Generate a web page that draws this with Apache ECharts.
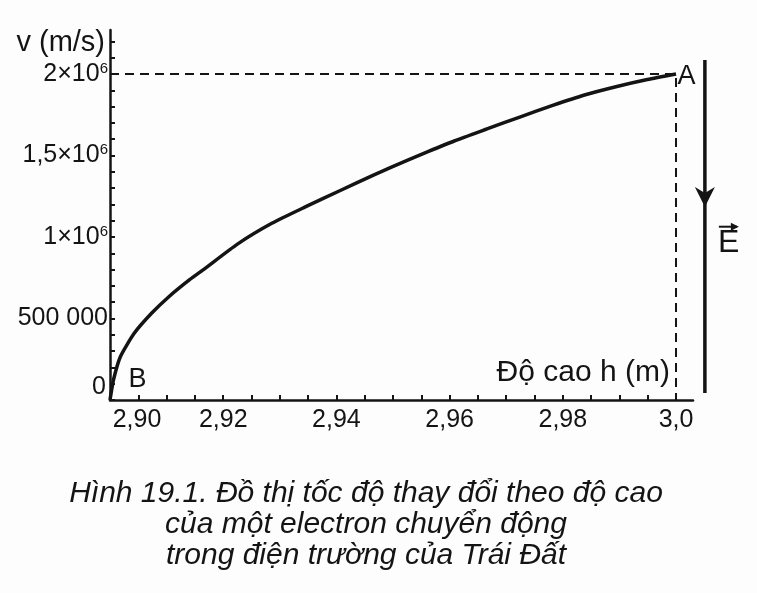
<!DOCTYPE html>
<html>
<head>
<meta charset="utf-8">
<script src="https://cdn.jsdelivr.net/npm/echarts@6/dist/echarts.min.js"></script>
<style>
html,body{margin:0;padding:0;background:#fdfdfd;}
#chart{width:757px;height:593px;}
</style>
</head>
<body>
<div id="chart"></div>
<script>
// ---- data ----
const heights = [2.9000, 2.90061, 2.90183, 2.90428, 2.90734, 2.9104, 2.91407, 2.91651, 2.92258, 2.92859, 2.93459, 2.94059, 2.94655, 2.9525, 2.95607, 2.96082, 2.96661, 2.9724, 2.97821, 2.98383, 2.98938, 2.99495, 3.0];
const speeds  = [0, 122700, 265600, 409200, 531900, 633700, 738000, 800000, 958000, 1084000, 1186000, 1284000, 1380000, 1470000, 1522000, 1589000, 1663000, 1736000, 1807000, 1871000, 1922000, 1966000, 2000000];
const xTickValues = [2.90, 2.92, 2.94, 2.96, 2.98, 3.00];
const xTickLabels = ['{first|2,90}', '2,92', '2,94', '2,96', '2,98', '3,0'];
const yTickValues = [0, 500000, 1000000, 1500000, 2000000];
const yTickLabels = ['{z|0}', '500 000', '1×10{s|6}', '1,5×10{s|6}', '2×10{s|6}'];
const pointA = [3.0, 2000000];
const pointB = [2.9000, 0];
// electric field arrow (annotation), in data units
const fieldH = 3.0051;
const fieldTopV = 2086000;
const fieldBottomV = 43000;
const fieldHeadV = 1184000;
const fieldLabelV = 965000;

const ink = '#141414';
const FONT = '"Liberation Sans", Arial, sans-serif';

function findLabel(values, labels, v, tol) {
  for (let i = 0; i < values.length; i++) {
    if (Math.abs(values[i] - v) < tol) return labels[i];
  }
  return '';
}

const chart = echarts.init(document.getElementById('chart'), null, {renderer: 'canvas'});
const curve = heights.map((h, i) => [h, speeds[i]]);
const hidden = {color: 'rgba(0,0,0,0)', borderWidth: 0, opacity: 1};

chart.setOption({
  backgroundColor: '#fdfdfd',
  animation: false,
  textStyle: {fontFamily: FONT, color: ink},
  title: {
    text: 'Hình 19.1. Đồ thị tốc độ thay đổi theo độ cao\ncủa một electron chuyển động\ntrong điện trường của Trái Đất',
    left: 361,
    top: 473,
    textAlign: 'center',
    textStyle: {fontFamily: FONT, fontStyle: 'italic', fontWeight: 'normal', fontSize: 30, lineHeight: 31, color: ink}
  },
  grid: {left: 110, right: 64, top: 30, bottom: 193, containLabel: false},
  xAxis: {
    type: 'value',
    min: 2.90,
    max: 3.003,
    interval: 0.005,
    name: 'Độ cao h (m)',
    nameLocation: 'end',
    nameGap: -23,
    nameTextStyle: {fontFamily: FONT, fontSize: 30, color: ink, align: 'right', verticalAlign: 'bottom', padding: [0, 0, 12, 0]},
    axisLine: {lineStyle: {color: ink, width: 2.5}},
    axisTick: {inside: true, length: 5, lineStyle: {color: ink, width: 2}},
    splitLine: {show: false},
    axisLabel: {
      margin: 8,
      fontSize: 25,
      color: ink,
      fontFamily: FONT,
      showMaxLabel: false,
      formatter: v => findLabel(xTickValues, xTickLabels, v, 1e-6),
      rich: {first: {fontSize: 25, fontFamily: FONT, color: ink, padding: [0, 0, 0, 54]}}
    }
  },
  yAxis: {
    type: 'value',
    min: 0,
    max: 2270000,
    interval: 100000,
    name: 'v (m/s)',
    nameLocation: 'end',
    nameGap: -13,
    nameTextStyle: {fontFamily: FONT, fontSize: 29, color: ink, align: 'right', verticalAlign: 'middle', padding: [0, 5, 0, 0]},
    axisLine: {show: true, lineStyle: {color: ink, width: 2.5}},
    axisTick: {show: true, inside: true, length: 5, lineStyle: {color: ink, width: 2}},
    splitLine: {show: false},
    axisLabel: {
      margin: 2,
      fontSize: 25,
      lineHeight: 26,
      color: ink,
      fontFamily: FONT,
      showMaxLabel: false,
      formatter: v => findLabel(yTickValues, yTickLabels, v, 1),
      rich: {
        s: {fontSize: 15, lineHeight: 15, verticalAlign: 'top', fontFamily: FONT, color: ink},
        z: {fontSize: 25, fontFamily: FONT, color: ink, padding: [0, 2, 26, 0]}
      }
    }
  },
  series: [
    {
      type: 'line',
      data: [[xTickValues[0], pointA[1]], pointA, [pointA[0], 0]],
      symbol: 'none',
      lineStyle: {color: ink, width: 2, type: [9, 6]},
      silent: true
    },
    {
      type: 'line',
      data: curve,
      symbol: 'none',
      smooth: 0.2,
      lineStyle: {color: ink, width: 3.5},
      silent: true
    },
    {
      type: 'scatter',
      clip: false,
      silent: true,
      symbol: 'circle',
      symbolSize: 1,
      itemStyle: hidden,
      data: [
        {value: pointA, label: {show: true, position: 'right', distance: 1, offset: [0, 3], formatter: 'A', fontSize: 27, fontFamily: FONT, color: ink}},
        {value: pointB, label: {show: true, position: 'right', distance: 1, offset: [17, -20], formatter: 'B', fontSize: 27, fontFamily: FONT, color: ink}}
      ]
    }
  ]
});

// electric-field arrow drawn at data positions converted by the chart's own scales
function px(h, v) { return chart.convertToPixel({gridIndex: 0}, [h, v]); }
const pTop = px(fieldH, fieldTopV);
const pBot = px(fieldH, fieldBottomV);
const pTip = px(fieldH, fieldHeadV);
const pLab = px(fieldH, fieldLabelV);
const ex = pLab[0] + 13, ey = pLab[1];
chart.setOption({
  graphic: [
    {type: 'line', silent: true, shape: {x1: pTop[0], y1: pTop[1], x2: pBot[0], y2: pBot[1]}, style: {stroke: ink, lineWidth: 3.5}},
    {type: 'polygon', silent: true, shape: {points: [[pTip[0], pTip[1]], [pTip[0] - 10, pTip[1] - 20], [pTip[0], pTip[1] - 14], [pTip[0] + 10, pTip[1] - 20]]}, style: {fill: ink}},
    {type: 'text', silent: true, x: ex, y: ey, style: {text: 'E', font: '32px "Liberation Sans", Arial, sans-serif', fill: ink, textAlign: 'left', textVerticalAlign: 'middle'}},
    {type: 'line', silent: true, shape: {x1: ex + 1, y1: ey - 16, x2: ex + 19, y2: ey - 16}, style: {stroke: ink, lineWidth: 2}},
    {type: 'polygon', silent: true, shape: {points: [[ex + 21, ey - 16], [ex + 13, ey - 20], [ex + 13, ey - 12]]}, style: {fill: ink}}
  ]
});
</script>
</body>
</html>
